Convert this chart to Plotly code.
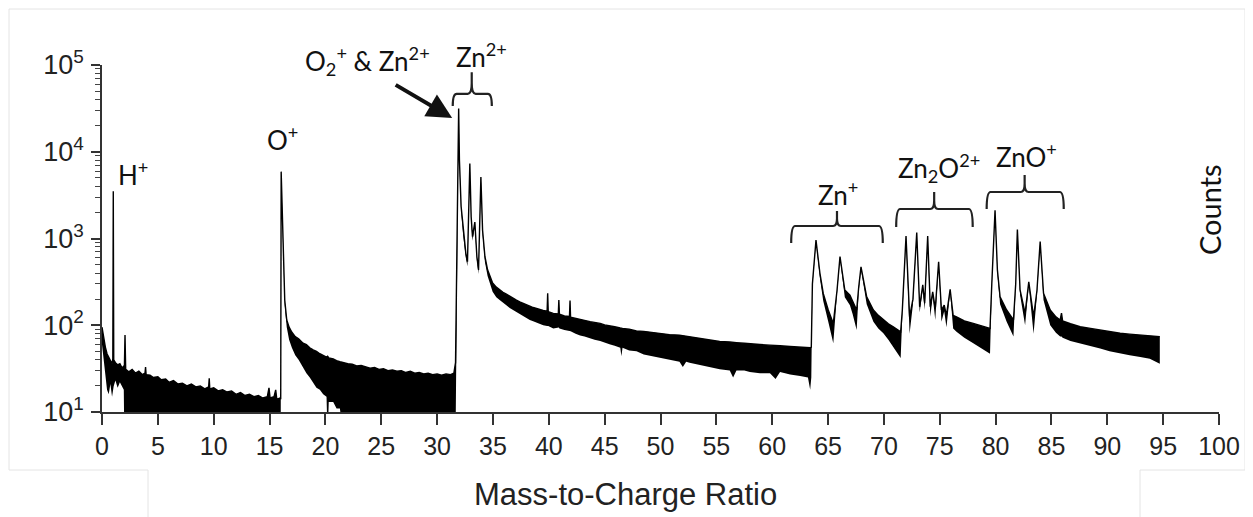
import plotly.graph_objects as go

# ---- data (m/z, upper and lower edge of the noisy trace, counts) ----
mz = [
    0.0, 0.15, 0.3, 0.45, 0.6, 0.75, 0.9, 0.97, 1.01, 1.05,
    1.2, 1.4, 1.6, 1.8, 1.95, 2.0, 2.06, 2.12, 2.4, 2.7,
    3.0, 3.3, 3.6, 3.85, 3.9, 3.95, 4.3, 4.6, 5.0, 5.3,
    5.7, 6.0, 6.4, 6.8, 7.2, 7.6, 8.0, 8.4, 8.8, 9.2,
    9.55, 9.6, 9.65, 10.0, 10.4, 10.8, 11.2, 11.6, 12.0, 12.4,
    12.8, 13.2, 13.6, 14.0, 14.4, 14.8, 14.95, 15.05, 15.4, 15.55,
    15.65, 15.95, 16.0, 16.04, 16.18, 16.27, 16.36, 16.54, 16.75, 17.0,
    17.3, 17.6, 18.0, 18.3, 18.6, 18.9, 19.2, 19.5, 19.8, 20.1,
    20.2, 20.3, 20.7, 21.0, 21.3, 21.6, 22.0, 22.4, 22.8, 23.2,
    23.6, 24.0, 24.4, 24.8, 25.2, 25.6, 26.0, 26.4, 26.8, 27.2,
    27.6, 28.0, 28.4, 28.8, 29.2, 29.6, 30.0, 30.4, 30.8, 31.2,
    31.5, 31.65, 31.93, 32.0, 32.15, 32.33, 32.57, 32.72, 32.93, 33.05,
    33.17, 33.38, 33.56, 33.71, 33.92, 34.07, 34.28, 34.52, 34.97, 35.3,
    35.6, 35.9, 36.2, 36.5, 36.8, 37.1, 37.4, 37.7, 38.0, 38.3,
    38.6, 38.9, 39.2, 39.5, 39.85, 39.9, 39.95, 40.4, 40.85, 40.9,
    40.95, 41.4, 41.85, 41.9, 41.95, 42.4, 42.8, 43.2, 43.7, 44.1,
    44.6, 45.0, 45.5, 45.9, 46.4, 46.5, 46.6, 47.2, 47.85, 48.5,
    49.3, 50.0, 50.8, 51.7, 52.0, 52.3, 52.6, 53.5, 54.4, 55.3,
    56.2, 56.5, 56.8, 57.5, 58.0, 58.9, 59.8, 60.3, 60.7, 61.6,
    62.5, 63.2, 63.4, 63.5, 63.6, 63.92, 64.27, 64.57, 65.02, 65.47,
    65.8, 66.07, 66.5, 66.96, 67.2, 67.56, 67.75, 67.95, 68.46, 69.06,
    69.5, 69.95, 70.4, 70.84, 71.2, 71.5, 71.65, 71.98, 72.3, 72.6,
    72.94, 73.2, 73.48, 73.65, 73.92, 74.15, 74.37, 74.6, 74.9, 75.15,
    75.4, 75.6, 75.93, 76.2, 76.5, 77.2, 78.0, 78.7, 79.5, 79.66,
    79.95, 80.16, 80.4, 80.99, 81.6, 81.8, 81.95, 82.19, 82.64, 82.97,
    83.4, 83.7, 83.99, 84.29, 84.89, 85.4, 85.78, 85.9, 86.0, 86.7,
    87.57, 88.5, 89.36, 90.2, 91.15, 92.0, 92.95, 93.8, 94.7,
]

counts_upper = [
    95, 72, 56, 47, 43, 39, 36, 41, 3500, 40,
    37, 35, 36, 32, 34, 31, 77, 31, 29, 31,
    28, 29.5, 27, 28, 33, 27, 26.5, 25, 25.5, 23.5,
    24, 22, 23, 21, 21.5, 20, 21, 19.5, 20, 18.5,
    19.5, 24.5, 18.5, 19, 17.5, 18, 17, 17.5, 16, 16.8,
    15.5, 16, 15, 15.5, 14.5, 15, 19, 14.5, 15, 18,
    14, 14.5, 14, 5900, 960, 362, 195, 115, 95, 83,
    74, 70, 62, 60, 55, 52, 50, 47, 45, 43,
    44, 42, 41, 39, 38, 37, 36, 35.5, 34, 34.5,
    33, 32, 32.5, 31, 31.5, 30, 30.5, 29.5, 30, 28.5,
    29.5, 28, 28.5, 27.5, 28, 27, 27.5, 26.5, 27.5, 27,
    28, 37, 31600, 8000, 2330, 1250, 680, 540, 7300, 1770,
    1050, 1550, 620, 435, 5100, 1250, 620, 435, 307, 275,
    255, 240, 228, 215, 205, 195, 186, 178, 171, 166,
    160, 156, 150, 148, 145, 233, 143, 137, 135, 195,
    134, 128, 126, 193, 124, 121, 118, 114, 110, 108,
    105, 101, 99, 96, 93, 93, 92, 90, 86, 85,
    82, 80, 78, 77, 76, 75, 73, 70, 68, 65,
    64, 63, 63, 62, 61, 60, 59, 59, 58, 57,
    56, 56, 55, 56, 300, 960, 400, 233, 150, 105,
    250, 620, 255, 222, 190, 150, 280, 470, 213, 150,
    130, 115, 104, 96, 90, 84, 150, 1070, 125, 200,
    1170, 163, 292, 180, 1070, 163, 243, 155, 540, 150,
    171, 130, 260, 130, 125, 112, 105, 98, 92, 300,
    2120, 435, 213, 150, 115, 300, 1270, 255, 137, 316,
    125, 250, 920, 233, 150, 125, 115, 138, 112, 104,
    96, 92, 88, 84, 81, 79, 77, 76, 74,
]

counts_lower = [
    60, 40, 26, 18, 16, 21, 15, 18, 18, 20,
    23, 19, 22, 20, 18, 5, 5, 5, 5, 5,
    5, 5, 5, 5, 5, 5, 5, 5, 5, 5,
    5, 5, 5, 5, 5, 5, 5, 5, 5, 5,
    5, 5, 5, 5, 5, 5, 5, 5, 5, 5,
    5, 5, 5, 5, 5, 5, 5, 5, 5, 5,
    5, 5, 5, 5000, 880, 330, 170, 95, 68, 55,
    45, 40, 32, 28, 25, 22, 19, 18, 16, 15,
    5, 13, 13, 11, 11, 5, 5, 5, 5, 5,
    5, 5, 5, 5, 5, 5, 5, 5, 5, 5,
    5, 5, 5, 5, 5, 5, 5, 5, 5, 5,
    5, 5, 29000, 7000, 2100, 1100, 600, 480, 6800, 1600,
    940, 1400, 560, 390, 4700, 1120, 540, 370, 243, 210,
    195, 180, 170, 158, 150, 142, 133, 126, 120, 115,
    111, 107, 104, 100, 98, 98, 98, 92, 94, 94,
    92, 88, 86, 86, 85, 80, 76, 74, 70, 68,
    66, 63, 60, 58, 55, 44, 55, 51, 50, 46,
    44, 42, 40, 38, 33, 38, 37, 35, 33, 31,
    30, 25, 30, 30, 29, 28, 28, 24, 29, 27,
    26, 25, 18, 25, 280, 900, 350, 190, 110, 62,
    230, 580, 210, 170, 135, 88, 250, 440, 175, 110,
    92, 81, 68, 56, 48, 42, 130, 1000, 80, 175,
    1100, 140, 260, 150, 1000, 125, 215, 115, 500, 110,
    145, 95, 240, 92, 84, 72, 62, 54, 47, 280,
    2000, 390, 175, 110, 74, 280, 1200, 225, 100, 290,
    80, 225, 860, 195, 100, 82, 74, 74, 72, 66,
    62, 58, 54, 50, 47, 45, 43, 41, 36,
]

y_tick_vals = [10, 100, 1000, 10000, 100000]
y_tick_text = ["10<sup>1</sup>", "10<sup>2</sup>", "10<sup>3</sup>", "10<sup>4</sup>", "10<sup>5</sup>"]
x_tick_vals = list(range(0, 101, 5))

# ion labels: text, m/z position of label centre, paper-y
ion_labels = ["H<sup>+</sup>", "O<sup>+</sup>", "O<sub>2</sub><sup>+</sup> & Zn<sup>2+</sup>",
              "Zn<sup>2+</sup>", "Zn<sup>+</sup>", "Zn<sub>2</sub>O<sup>2+</sup>", "ZnO<sup>+</sup>"]
ion_label_mz = [2.8, 16.2, 23.8, 34.0, 65.9, 74.9, 82.8]
ion_label_y = [0.688, 0.789, 1.012, 1.028, 0.630, 0.702, 0.738]

# brackets: left, centre, right m/z ; paper y of horizontal bar, ends, stem top
bracket_left = [31.4, 61.7, 71.1, 79.2]
bracket_center = [33.1, 65.8, 74.5, 82.6]
bracket_right = [34.9, 69.9, 77.95, 86.1]
bracket_bar_y = [0.917, 0.536, 0.585, 0.634]
bracket_end_y = [0.882, 0.487, 0.533, 0.585]
bracket_top_y = [0.979, 0.579, 0.634, 0.683]

n = min(len(mz), len(counts_upper), len(counts_lower))

fig = go.Figure()
fig.add_trace(go.Scatter(x=mz[:n], y=counts_lower[:n], mode="lines",
                         line=dict(width=0, color="black"), showlegend=False,
                         hoverinfo="skip"))
fig.add_trace(go.Scatter(x=mz[:n], y=counts_upper[:n], mode="lines",
                         line=dict(width=1.4, color="black"), fill="tonexty",
                         fillcolor="black", showlegend=False))

# page has an 8px body margin: figure is placed at (8, 8) of the 1253x517 window
OFF = 8
PAGE_W, PAGE_H = 1253, 517
W, H = PAGE_W - OFF, PAGE_H - OFF
PLOT_X0, PLOT_X1, PLOT_Y0, PLOT_Y1 = 102, 1219, 65, 412   # page pixels of plot area
L = PLOT_X0 - OFF
R = W - (PLOT_X1 - OFF)
T = PLOT_Y0 - OFF
B = H - (PLOT_Y1 - OFF)
PW, PH = PLOT_X1 - PLOT_X0, PLOT_Y1 - PLOT_Y0


def px_x(px):
    return (px - PLOT_X0) / PW


def px_y(py):
    return (PLOT_Y1 - py) / PH


annotations = []
label_font = dict(family="Lato, Open Sans, sans-serif", size=26, color="#111")
for txt, xm, yp in zip(ion_labels, ion_label_mz, ion_label_y):
    annotations.append(dict(x=xm, y=yp, xref="x", yref="paper", text=txt,
                            showarrow=False, font=label_font,
                            xanchor="center", yanchor="middle"))

# arrow pointing to the O2+ & Zn2+ peak
annotations.append(dict(x=31.35, y=px_y(118), xref="x", yref="paper", text="",
                        showarrow=True, ax=-58, ay=-34, axref="pixel", ayref="pixel",
                        arrowhead=2, arrowsize=1.25, arrowwidth=4, arrowcolor="#111",
                        standoff=0))

annotations.append(dict(x=px_x(625), y=px_y(494), xref="paper", yref="paper",
                        text="Mass-to-Charge Ratio", showarrow=False,
                        font=dict(family="Liberation Sans, Arial, sans-serif", size=31, color="#222"),
                        xanchor="center", yanchor="middle"))
annotations.append(dict(x=px_x(1209), y=px_y(210), xref="paper", yref="paper",
                        text="Counts", showarrow=False, textangle=-90,
                        font=dict(family="Lato, Open Sans, sans-serif", size=29, color="#111"),
                        xanchor="center", yanchor="middle"))

shapes = []
for xl, xc, xr, yb, ye, yt in zip(bracket_left, bracket_center, bracket_right,
                                  bracket_bar_y, bracket_end_y, bracket_top_y):
    d = 0.35
    path = (f"M {xl},{ye} Q {xl},{yb} {xl + d},{yb} L {xc - d},{yb} "
            f"Q {xc},{yb} {xc},{(yb + yt) / 2} L {xc},{yt} "
            f"M {xc},{(yb + yt) / 2} Q {xc},{yb} {xc + d},{yb} L {xr - d},{yb} "
            f"Q {xr},{yb} {xr},{ye}")
    shapes.append(dict(type="path", path=path, xref="x", yref="paper",
                       line=dict(color="#222", width=2.2)))

# faint outline of the original figure panel
outline = (f"M {px_x(148)},{px_y(517)} L {px_x(148)},{px_y(470)} L {px_x(9)},{px_y(470)} "
           f"L {px_x(9)},{px_y(9)} L {px_x(1245)},{px_y(9)} L {px_x(1245)},{px_y(470)} "
           f"L {px_x(1140)},{px_y(470)} L {px_x(1140)},{px_y(517)}")
shapes.append(dict(type="path", path=outline, xref="paper", yref="paper",
                   line=dict(color="#e4e4e4", width=1), layer="below"))

# minor log ticks 2..9 in every decade
minor_vals = [m * 10 ** k for k in range(1, 5) for m in range(2, 10)]

x_tick_font = dict(family="Liberation Sans, Arial, sans-serif", size=25, color="#222")
y_tick_font = dict(family="Liberation Sans, Arial, sans-serif", size=27, color="#222")

fig.update_layout(
    width=W, height=H,
    margin=dict(l=L, r=R, t=T, b=B, autoexpand=False),
    paper_bgcolor="white", plot_bgcolor="white",
    showlegend=False,
    annotations=annotations,
    shapes=shapes,
    xaxis=dict(range=[0, 100], tickvals=x_tick_vals, ticks="outside", ticklen=11,
               tickwidth=1.5, tickcolor="#333", showline=True, linecolor="#333",
               linewidth=1.5, showgrid=False, zeroline=False, tickfont=x_tick_font),
    yaxis=dict(type="log", range=[1, 5], tickvals=y_tick_vals, ticktext=y_tick_text,
               ticks="outside", ticklen=9, tickwidth=1.5, tickcolor="#333",
               showline=True, linecolor="#333", linewidth=1.5, showgrid=False,
               zeroline=False, tickfont=y_tick_font, ticklabelstandoff=2,
               minor=dict(tickmode="array", tickvals=minor_vals, ticks="outside",
                          ticklen=5, tickwidth=1.2, tickcolor="#444", showgrid=False)),
)

fig.write_html("out.html")
